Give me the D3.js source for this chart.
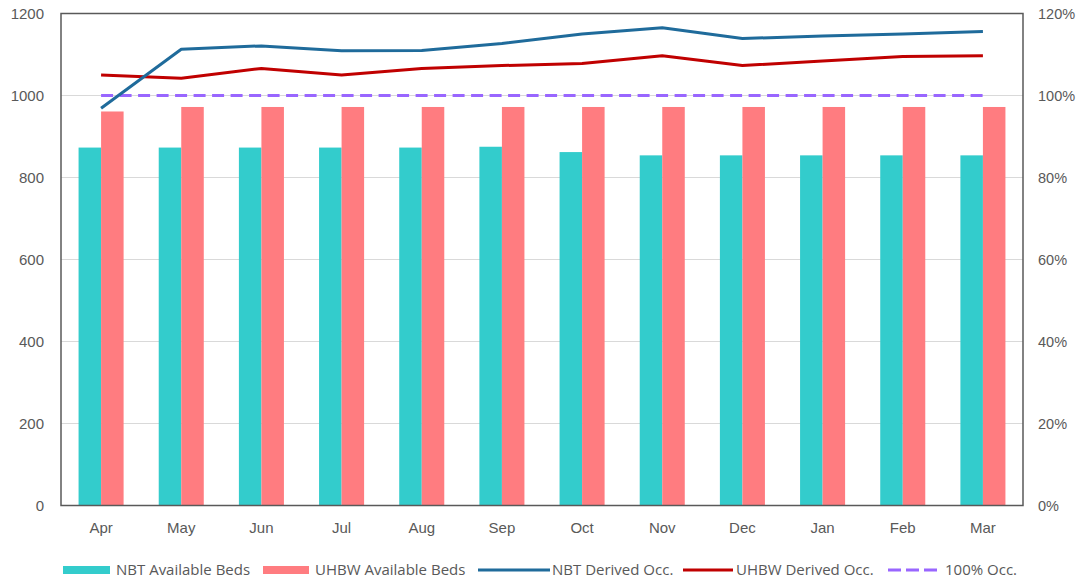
<!DOCTYPE html>
<html><head><meta charset="utf-8">
<script src="https://cdn.jsdelivr.net/npm/d3@7"></script>
<style>body{margin:0;background:#fff}svg{display:block;font-family:"Open Sans",sans-serif}</style>
</head><body><svg id="c" width="1076" height="584"></svg>
<script>
const months = ["Apr","May","Jun","Jul","Aug","Sep","Oct","Nov","Dec","Jan","Feb","Mar"];
const nbtBeds = [873,873,873,873,873,875,862,854,854,854,854,854];
const uhbwBeds = [961,972,972,972,972,972,972,972,972,972,972,972];
const nbtOcc = [96.9,111.3,112.1,110.9,111.0,112.7,115.0,116.5,113.9,114.5,115.0,115.6];
const uhbwOcc = [105.0,104.2,106.6,105.0,106.6,107.3,107.8,109.7,107.3,108.4,109.5,109.7];
const fullOcc = [100,100,100,100,100,100,100,100,100,100,100,100];
const leftTicks = [0,200,400,600,800,1000,1200];
const rightTicks = [0,20,40,60,80,100,120];

const svg = d3.select("#c");
const L=61,R=1023,T=13.5,B=505.5;
const x = d3.scaleBand().domain(months).range([L,R]).padding(0);
const xi = d3.scaleBand().domain(["nbt","uhbw"]).range([0,x.bandwidth()]).paddingInner(0).paddingOuter(0.78);
const y = d3.scaleLinear().domain([0,1200]).range([B,T]);
const y2 = d3.scaleLinear().domain([0,120]).range([B,T]);
const txt="#595959";
const fs="15px";

// grid
svg.append("g").selectAll("line").data(leftTicks).join("line")
  .attr("x1",L).attr("x2",R).attr("y1",d=>y(d)).attr("y2",d=>y(d))
  .attr("stroke","#d9d9d9").attr("stroke-width",1);

// left axis
const la = svg.append("g").attr("transform",`translate(${L},0)`).call(d3.axisLeft(y).tickValues(leftTicks).tickSize(0).tickPadding(17).tickFormat(d3.format("d")));
la.select(".domain").remove();
la.selectAll("text").attr("fill",txt).style("font-size",fs);
// right axis
const ra = svg.append("g").attr("transform",`translate(${R},0)`).call(d3.axisRight(y2).tickValues(rightTicks).tickSize(0).tickPadding(15).tickFormat(d=>d+"%"));
ra.select(".domain").remove();
ra.selectAll("text").attr("fill",txt).style("font-size","14.5px");
// x axis
const xa = svg.append("g").attr("transform",`translate(0,${B})`).call(d3.axisBottom(x).tickSize(0).tickPadding(17));
xa.select(".domain").remove();
xa.selectAll("text").attr("fill",txt).style("font-size",fs);

// bars
const gb = svg.append("g");
gb.selectAll(".nbt").data(months).join("rect").attr("class","nbt")
  .attr("x",(d,i)=>x(d)+xi("nbt")).attr("width",xi.bandwidth())
  .attr("y",(d,i)=>y(nbtBeds[i])).attr("height",(d,i)=>B-y(nbtBeds[i])).attr("fill","#33CCCC");
gb.selectAll(".uhbw").data(months).join("rect").attr("class","uhbw")
  .attr("x",(d,i)=>x(d)+xi("uhbw")).attr("width",xi.bandwidth())
  .attr("y",(d,i)=>y(uhbwBeds[i])).attr("height",(d,i)=>B-y(uhbwBeds[i])).attr("fill","#FF7C80");

// lines
const cx = d=>x(d)+x.bandwidth()/2;
const line = arr => d3.line().x((d,i)=>cx(months[i])).y(d=>y2(d))(arr);
svg.append("path").attr("d",line(fullOcc)).attr("fill","none").attr("stroke","#9966FF").attr("stroke-width",3).attr("stroke-dasharray","12,6.5");
svg.append("path").attr("d",line(uhbwOcc)).attr("fill","none").attr("stroke","#C00000").attr("stroke-width",3).attr("stroke-linejoin","round");
svg.append("path").attr("d",line(nbtOcc)).attr("fill","none").attr("stroke","#1F6B9B").attr("stroke-width",3).attr("stroke-linejoin","round");

// frame
svg.append("rect").attr("x",L).attr("y",T).attr("width",R-L).attr("height",B-T)
  .attr("fill","none").attr("stroke","#595959").attr("stroke-width",1.5);

// legend
const legend = [
  {label:"NBT Available Beds", type:"bar", color:"#33CCCC", x:63, w:47, tx:116},
  {label:"UHBW Available Beds", type:"bar", color:"#FF7C80", x:263, w:46, tx:315},
  {label:"NBT Derived Occ.", type:"line", color:"#1F6B9B", x:478, w:72, tx:552},
  {label:"UHBW Derived Occ.", type:"line", color:"#C00000", x:683, w:50, tx:736},
  {label:"100% Occ.", type:"dash", color:"#9966FF", x:888, w:50, tx:945}
];
const ly = 570;
const lg = svg.append("g");
legend.forEach(it=>{
  const g = lg.append("g");
  if(it.type==="bar"){
    g.append("rect").attr("x",it.x).attr("y",ly-4).attr("width",it.w).attr("height",8).attr("fill",it.color);
  } else {
    g.append("line").attr("x1",it.x).attr("x2",it.x+it.w).attr("y1",ly).attr("y2",ly)
      .attr("stroke",it.color).attr("stroke-width",3).attr("stroke-dasharray",it.type==="dash"?"13,5":null);
  }
  g.append("text").attr("x",it.tx).attr("y",ly).attr("dy","0.35em").attr("fill",txt)
    .style("font-size",fs).text(it.label);
});
</script></body></html>
